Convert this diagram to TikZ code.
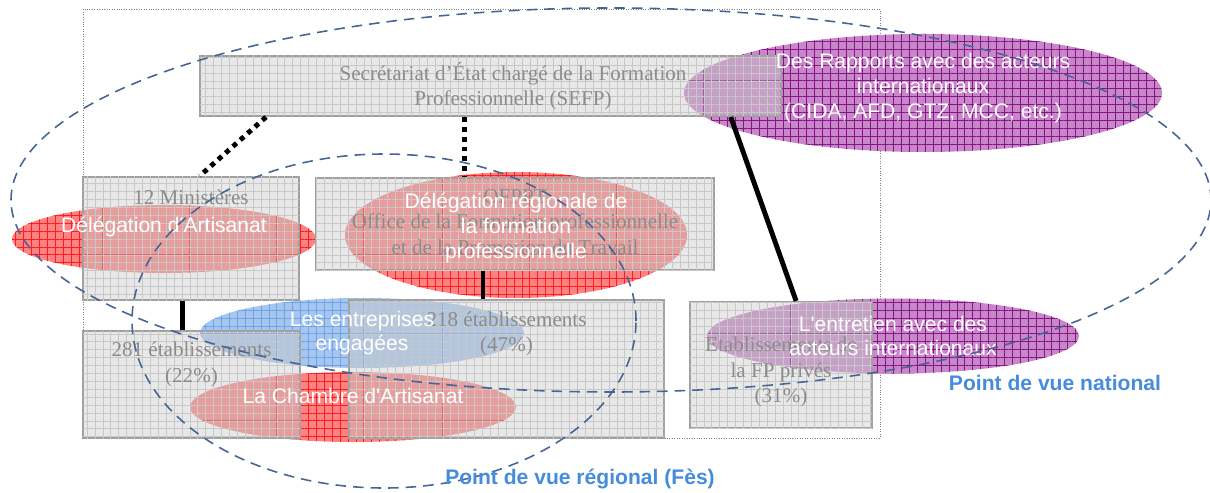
\documentclass[tikz,border=0pt]{standalone}
\usepackage{fontspec}
\setmainfont{Liberation Serif}
\newfontfamily\arialfont{Liberation Sans}
\usepackage{xcolor}
\definecolor{cadre-fond}{RGB}{198,198,198}
\definecolor{cadre-grille}{RGB}{200,200,200}
\definecolor{cadre-bord}{RGB}{160,160,160}
\definecolor{texte-gris}{RGB}{140,140,140}
\definecolor{rouge-fond}{RGB}{255,130,130}
\definecolor{rouge-grille}{RGB}{250,30,30}
\definecolor{violet-fond}{RGB}{200,135,200}
\definecolor{violet-grille}{RGB}{135,20,135}
\definecolor{bleu-fond}{RGB}{165,198,240}
\definecolor{bleu-grille}{RGB}{115,162,225}
\definecolor{zone-bleu}{RGB}{70,100,150}
\definecolor{vue-bleu}{RGB}{70,140,220}
\usepackage{tikz}
\usetikzlibrary{shapes.geometric,calc,patterns.meta}

\begin{document}
\begin{tikzpicture}[
	cadre/.style={rectangle,draw=cadre-bord,line width=1.2pt,fill=cadre-fond,
		fill opacity=.4,inner sep=0pt,
		postaction={pattern={Hatch[distance=4.5pt,line width=.3pt]},pattern color=cadre-grille}},
	bulle/.style={ellipse,inner sep=0pt,draw=none},
	rouge/.style={bulle,fill=rouge-fond,
		postaction={pattern={Hatch[distance=4.5pt,line width=.4pt]},pattern color=rouge-grille}},
	violet/.style={bulle,fill=violet-fond,
		postaction={pattern={Hatch[distance=4.5pt,line width=.4pt]},pattern color=violet-grille}},
	bleu/.style={bulle,fill=bleu-fond,
		postaction={pattern={Hatch[distance=4.5pt,line width=.4pt]},pattern color=bleu-grille}},
	txtgris/.style={text=texte-gris,align=center,font=\fontsize{12}{14.5}\selectfont},
	txtblanc/.style={text=white,align=center,font=\arialfont\fontsize{12}{14}\selectfont},
	vue/.style={text=vue-bleu,font=\arialfont\bfseries\fontsize{12}{14}\selectfont},
	zone/.style={draw=zone-bleu,line width=.9pt,dash pattern=on 6pt off 4pt},
	lien/.style={line width=2.8pt},
	pointille/.style={line width=2.8pt,dash pattern=on 2.8pt off 2.8pt},
	]
	\useasboundingbox (0,0) rectangle (24.2,9.84);
	\draw[densely dotted,gray,line width=.4pt] (1.66,1.08) rectangle (17.6,9.66);
	
	% ellipses
	\node[violet,minimum width=9.56cm,minimum height=2.36cm] (intl) at (18.46,7.98) {};
	\node[rouge,minimum width=6.08cm,minimum height=1.36cm] (artisanat) at (3.28,5.06) {};
	\node[rouge,minimum width=6.84cm,minimum height=2.52cm] (delreg) at (10.32,5.14) {};
	\node[bleu,minimum width=6.48cm,minimum height=1.4cm] (entreprises) at (7.24,3.18) {};
	\node[rouge,minimum width=6.52cm,minimum height=1.4cm] (chambre) at (7.06,1.7) {};
	\node[violet,minimum width=7.44cm,minimum height=1.5cm] (entretien) at (17.86,3.12) {};
	
	% boites
	\node[cadre,minimum width=11.62cm,minimum height=1.2cm] (sefp) at (9.81,8.12) {};
	\node[cadre,minimum width=4.32cm,minimum height=2.46cm] (ministeres) at (3.82,5.07) {};
	\node[cadre,minimum width=7.96cm,minimum height=1.84cm] (ofppt) at (10.3,5.36) {};
	\node[cadre,minimum width=4.34cm,minimum height=2.14cm] (etab281) at (3.83,2.15) {};
	\node[cadre,minimum width=6.3cm,minimum height=2.76cm] (etab218) at (10.13,2.46) {};
	\node[cadre,minimum width=3.64cm,minimum height=2.52cm] (prives) at (15.62,2.54) {};
	
	\node[txtgris] (sefp-t) at ([xshift=.45cm]sefp.center)
		{Secrétariat d’État chargé de la Formation\\Professionnelle (SEFP)};
	\node[txtgris] (ministeres-t) at ([yshift=-.42cm]ministeres.north) {12 Ministères};
	\node[txtgris] (ofppt-t) at ([yshift=.04cm]ofppt.center)
		{OFPPT\\Office de la Formation professionnelle\\et de la Promotion du Travail};
	\node[txtgris] (etab281-t) at ([yshift=.4cm]etab281.center) {281 établissements\\(22\%)};
	\node[txtgris] (etab218-t) at ([yshift=.7cm]etab218.center) {218 établissements\\(47\%)};
	\node[txtgris] (prives-t) at ([yshift=-.14cm]prives.center) {Etablissements de\\la FP privés\\(31\%)};
	
	\node[txtblanc] (intl-t) at ([yshift=.1cm]intl.center)
		{Des Rapports avec des acteurs\\internationaux\\(CIDA, AFD, GTZ, MCC, etc.)};
	\node[txtblanc] (artisanat-t) at ([yshift=.24cm]artisanat.center) {Délégation d'Artisanat};
	\node[txtblanc] (delreg-t) at ([yshift=.14cm]delreg.center)
		{Délégation régionale de\\la formation\\professionnelle};
	\node[txtblanc] (entreprises-t) at (entreprises.center) {Les entreprises\\engagées};
	\node[txtblanc] (chambre-t) at ([yshift=.22cm]chambre.center) {La Chambre d'Artisanat};
	\node[txtblanc] (entretien-t) at (entretien.center) {L'entretien avec des\\acteurs internationaux};
	
	% zones
	\draw[zone] (12.22,5.84) ellipse [x radius=12cm,y radius=3.84cm];
	\draw[zone] (7.68,3.42) ellipse [x radius=5.04cm,y radius=3.34cm];
	
	% liens
	\draw[pointille] ($(sefp.south west)!.115!(sefp.south east)$)
		-- ($(ministeres.north west)!.54!(ministeres.north east)$);
	\coordinate (c-sefp) at ($(sefp.south west)!.456!(sefp.south east)$);
	\draw[pointille] (c-sefp) -- (c-sefp |- ofppt.north);
	\coordinate (c-min) at ($(ministeres.south west)!.463!(ministeres.south east)$);
	\draw[lien] (c-min) -- (c-min |- etab281.north);
	\coordinate (c-off) at ($(ofppt.south west)!.42!(ofppt.south east)$);
	\draw[lien] (c-off) -- (c-off |- etab218.north);
	\draw[lien] ($(sefp.south west)!.912!(sefp.south east)$)
		-- ($(prives.north west)!.582!(prives.north east)$);
	
	\node[vue] (national) at (21.1,2.18) {Point de vue national};
	\node[vue] (regional) at (11.6,.26) {Point de vue régional (Fès)};
\end{tikzpicture}
\end{document}
